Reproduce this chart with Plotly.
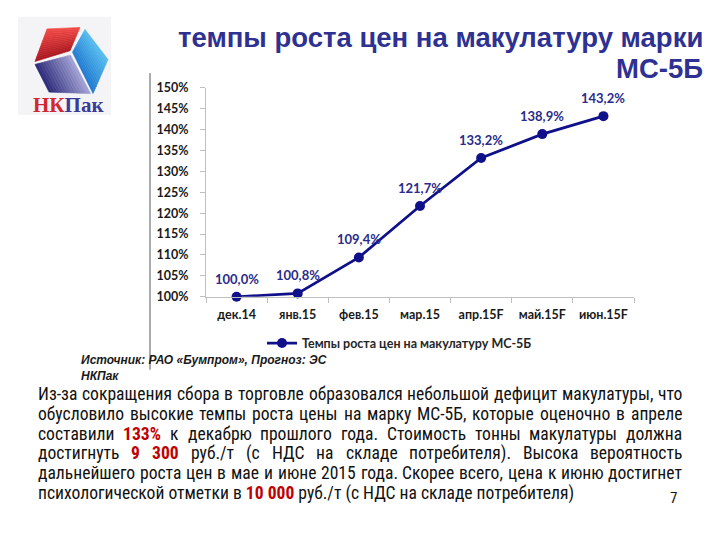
import glob
import plotly.graph_objects as go

# ---------------- data ----------------
months = ["дек.14", "янв.15", "фев.15", "мар.15", "апр.15F", "май.15F", "июн.15F"]
growth = [100.0, 100.8, 109.4, 121.7, 133.2, 138.9, 143.2]
y_ticks = [100, 105, 110, 115, 120, 125, 130, 135, 140, 145, 150]
y_tick_labels = [f"{v}%" for v in y_ticks]
series_name = "Темпы роста цен на макулатуру МС-5Б"
title_lines = ["темпы роста цен на макулатуру марки", "МС-5Б"]
source_lines = ["Источник: РАО «Бумпром», Прогноз: ЭС", "НКПак"]
body_lines = [
    "Из-за сокращения сбора в торговле образовался небольшой дефицит макулатуры, что",
    "обусловило высокие темпы роста цены на марку МС-5Б, которые оценочно в апреле",
    "составили *133%* к декабрю прошлого года. Стоимость тонны макулатуры должна",
    "достигнуть *9* *300* руб./т (с НДС на складе потребителя). Высока вероятность",
    "дальнейшего роста цен в мае и июне 2015 года. Скорее всего, цена к июню достигнет",
    "психологической отметки в *10 000* руб./т (с НДС на складе потребителя)",
]
page_number = "7"
logo_text = ["НК", "Пак"]

W, H = 720, 540
def px(x): return x / W
def py(y): return 1 - y / H

# ---------------- font measurement ----------------
def find(name):
    f = glob.glob("/usr/share/fonts/**/" + name, recursive=True)
    return f[0] if f else None

cond_reg = find("RobotoCondensed-Regular.ttf")
cond_bold = find("RobotoCondensed-Bold.ttf")
has_cond = cond_reg is not None
body_family = "Roboto Condensed" if has_cond else "Liberation Sans"
try:
    from PIL import ImageFont
    has_pil = True
except Exception:
    has_pil = False

arial = {}
for ch, w in zip("абвгдеёжзийклмнопрстуфхцчшщъыьэюя",
                 [556,573,531,365,583,556,556,669,458,559,559,438,583,688,552,556,542,556,500,458,500,823,500,573,521,802,823,625,719,521,510,750,542]):
    arial[ch] = w
for ch, w in zip("АБВГДЕЁЖЗИЙКЛМНОПРСТУФХЦЧШЩЪЫЬЭЮЯ",
                 [667,656,667,542,677,667,667,923,604,719,719,583,656,833,722,778,719,667,722,611,635,760,667,740,667,917,938,792,885,656,719,1010,722]):
    arial[ch] = w
for ch in "0123456789":
    arial[ch] = 556
arial.update({" ": 278, ".": 278, ",": 278, "-": 333, "(": 333, ")": 333, "/": 278, "%": 889, "F": 611})

_cache = {}
def measure(text, size, bold=False):
    if has_pil and has_cond:
        path = cond_bold if (bold and cond_bold) else cond_reg
        key = (path, size)
        if key not in _cache:
            _cache[key] = ImageFont.truetype(path, size=int(round(size * 4)))
        return _cache[key].getlength(text) / 4.0
    k = 0.86 if has_cond else 1.0
    return sum(arial.get(c, 556) for c in text) / 1000.0 * size * k * (1.04 if bold else 1.0)

def word_width(word, size):
    if word.startswith("*") and word.endswith("*"):
        return measure(word.strip("*"), size, True)
    return measure(word, size, False)

def word_html(word):
    if word.startswith("*") and word.endswith("*"):
        return "<b><span style='color:#C00000'>" + word.strip("*") + "</span></b>"
    return word

# ---------------- figure ----------------
navy = "#10108A"
label_blue = "#2B2B8C"
fig = go.Figure()
fig.add_trace(go.Scatter(
    x=months, y=growth, mode="lines+markers", name=series_name,
    line=dict(color=navy, width=2.75), marker=dict(color=navy, size=10),
    cliponaxis=False, hoverinfo="skip"))

annotations = []
for m, v in zip(months, growth):
    annotations.append(dict(
        x=m, y=v, xref="x", yref="y", text=f"{v:.1f}%".replace(".", ","),
        showarrow=False, yshift=18, yanchor="middle",
        font=dict(family="Lato", size=13, color=label_blue, weight="bold")))

# title
title_color = "#2E3192"
for i, t in enumerate(title_lines):
    annotations.append(dict(x=px(705), y=py(30 + 32 * i), xref="paper", yref="paper", xanchor="right",
                            yanchor="middle", text="<b>" + t + "</b>", showarrow=False,
                            font=dict(family="Liberation Sans", size=27.5, color=title_color)))

# source (two lines in one text block)
annotations.append(dict(x=px(81), y=py(355), xref="paper", yref="paper", xanchor="left", yanchor="top",
                        text="<br>".join("<b><i>" + s + "</i></b>" for s in source_lines),
                        showarrow=False, borderpad=0, borderwidth=0, align="left",
                        font=dict(family="Liberation Sans", size=12, color="#1A1A1A")))

# body text, justified
left, right = 38, 682
target = right - left
size = 17.0
nat1 = measure(body_lines[0].replace("*", ""), size)
size = size * (target - 6) / nat1
line_y0, line_dy = 397, 20.4
for i, line in enumerate(body_lines):
    y = py(line_y0 + line_dy * i)
    if i == len(body_lines) - 1:
        parts = line.split("*")
        html = "".join(("<b><span style='color:#C00000'>" + p + "</span></b>") if k % 2 else p
                       for k, p in enumerate(parts))
        annotations.append(dict(x=px(left), y=y, xref="paper", yref="paper", xanchor="left", yanchor="middle",
                                text=html, showarrow=False, borderpad=0, borderwidth=0,
                                font=dict(family=body_family, size=size, color="#111111")))
        continue
    words = line.split(" ")
    widths = [word_width(w, size) for w in words]
    gap = (target - sum(widths)) / (len(words) - 1)
    gap = max(gap, 0.2 * size)
    x = left
    for w, wd in zip(words, widths):
        annotations.append(dict(x=px(x), y=y, xref="paper", yref="paper", xanchor="left", yanchor="middle",
                                text=word_html(w), showarrow=False, borderpad=0, borderwidth=0,
                                font=dict(family=body_family, size=size, color="#111111")))
        x += wd + gap

annotations.append(dict(x=px(673), y=py(504), xref="paper", yref="paper", xanchor="center", yanchor="middle",
                        text=page_number, showarrow=False,
                        font=dict(family=body_family, size=15, color="#111111")))

# logo text
annotations.append(dict(x=px(68), y=py(100), xref="paper", yref="paper", xanchor="center", yanchor="middle",
                        text="<b><span style='color:#D0282C'>" + logo_text[0] + "</span><span style='color:#3B3B96'>"
                             + logo_text[1] + "</span></b>",
                        showarrow=False, font=dict(family="Liberation Serif", size=21)))

# ---------------- shapes ----------------
shapes = []
shapes.append(dict(type="rect", xref="paper", yref="paper", x0=px(18), x1=px(111), y0=py(9), y1=py(110),
                   fillcolor="#F4F4F6", line=dict(width=0), layer="below"))

def lerp(a, b, t): return (a[0] + (b[0] - a[0]) * t, a[1] + (b[1] - a[1]) * t)
def hexc(c): return tuple(int(c[i:i + 2], 16) for i in (1, 3, 5))
def mix(c1, c2, t):
    a, b = hexc(c1), hexc(c2)
    return "#%02x%02x%02x" % tuple(int(round(a[k] + (b[k] - a[k]) * t)) for k in range(3))

def grad_quad(A, B, C, D, c1, c2, n=14):
    for k in range(n):
        t0, t1 = k / n, (k + 1) / n
        p = [lerp(A, B, t0), lerp(A, B, t1), lerp(D, C, t1), lerp(D, C, t0)]
        path = "M " + " L ".join(f"{px(x):.5f},{py(y):.5f}" for x, y in p) + " Z"
        col = mix(c1, c2, (t0 + t1) / 2)
        shapes.append(dict(type="path", xref="paper", yref="paper", path=path,
                           fillcolor=col, line=dict(color=col, width=0.6), layer="above"))

grad_quad((35, 55), (47, 21.5), (80, 20), (70, 44), "#A8141E", "#F24A46")
grad_quad((72.5, 45.5), (85, 22), (108, 53), (93, 88), "#1F78CF", "#56BDF0")
grad_quad((35, 58), (70.5, 48.5), (90.5, 88), (49, 86.5), "#2A2877", "#A3A3D6")

shapes.append(dict(type="line", xref="paper", yref="paper", x0=px(150), x1=px(150), y0=py(67), y1=py(372),
                   line=dict(color="#595959", width=1)))

fig.update_layout(
    width=W, height=H, margin=dict(l=0, r=0, t=0, b=0),
    paper_bgcolor="white", plot_bgcolor="white",
    showlegend=True,
    legend=dict(orientation="h", x=px(262), xanchor="left", y=py(345), yanchor="middle",
                font=dict(family="Lato", size=12.5, color="#262626", weight="bold"),
                itemwidth=30, bgcolor="rgba(0,0,0,0)", borderwidth=0),
    xaxis=dict(type="category", domain=[px(206), px(634)], range=[-0.5, 6.5],
               showline=True, linecolor="#BFBFBF", linewidth=1, showgrid=False, zeroline=False,
               ticks="outside", tickson="boundaries", ticklen=5, tickcolor="#BFBFBF",
               tickfont=dict(family="Lato", size=12.5, color="#1A1A1A", weight="bold"),
               ticklabelstandoff=6, fixedrange=True),
    yaxis=dict(domain=[py(297), py(82)], range=[100, 150], tickmode="array", tickvals=y_ticks,
               ticktext=y_tick_labels,
               showline=True, linecolor="#BFBFBF", linewidth=1, showgrid=False, zeroline=False,
               ticks="outside", ticklen=5, tickcolor="#BFBFBF",
               tickfont=dict(family="Lato", size=12.5, color="#1A1A1A", weight="bold"),
               ticklabelstandoff=9, fixedrange=True),
    annotations=annotations, shapes=shapes,
)

fig.write_html("out.html")
